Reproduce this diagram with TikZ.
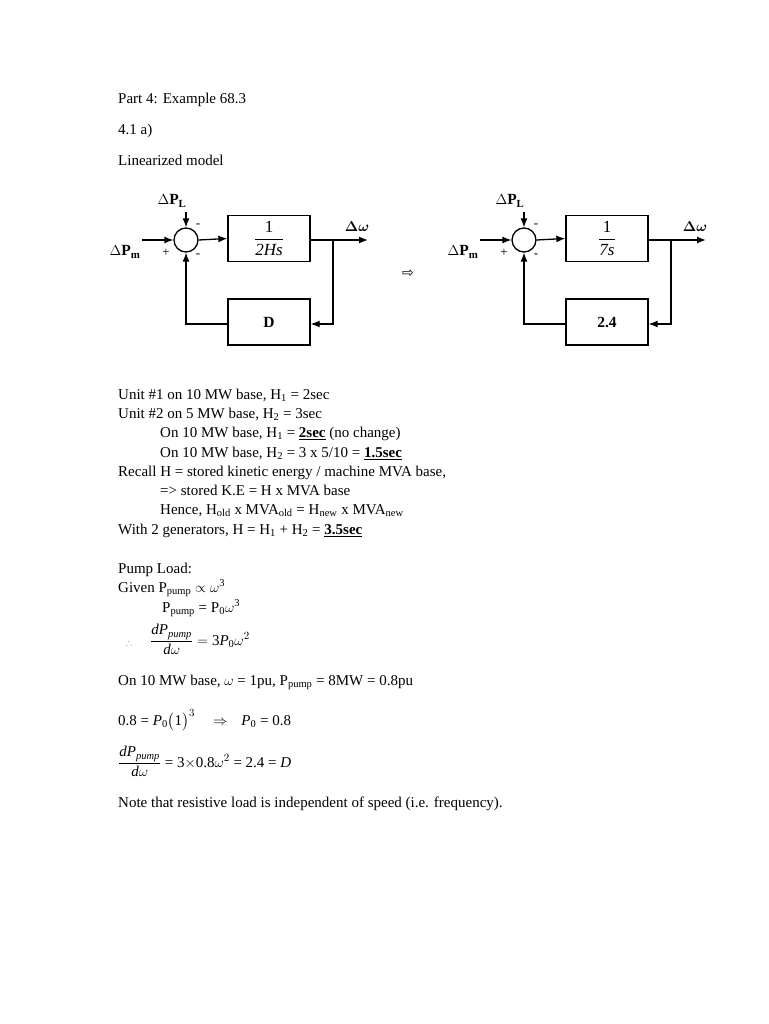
\documentclass[tikz,border=0pt]{standalone}
\usepackage{amsmath,amssymb}
\usepackage{fontspec}
\setmainfont{Liberation Serif}
\newfontfamily\symf{DejaVu Sans}
\usetikzlibrary{arrows.meta}
\begin{document}
\begin{tikzpicture}[x=1pt,y=-1pt,
  txt/.style={anchor=base west,inner sep=0pt,font=\fontsize{15}{17}\selectfont},
  lbl/.style={inner sep=0pt,font=\fontsize{15.5}{17}\selectfont\bfseries},
  blk/.style={draw,line width=1.3pt,minimum width=82pt,minimum height=46pt,inner sep=0pt,font=\fontsize{15.5}{17}\selectfont},
  sumc/.style={draw,line width=1.3pt,circle,minimum size=24pt,inner sep=0pt},
  ar/.style={line width=1.3pt,-{Latex[length=9pt,width=7pt]}},
  sg/.style={inner sep=0pt,font=\fontsize{13}{15}\selectfont}]
\useasboundingbox (0,0) rectangle (768,1024);
\fill[white] (0,0) rectangle (768,1024);

\node[txt] (t1) at (118,104) {Part 4: Example 68.3};
\node[txt] (t2) at (118,135) {4.1 a)};
\node[txt] (t3) at (118,166) {Linearized model};

\foreach \d/\nm/\blab/\dlab in {0/L/{\(\dfrac{\textrm{1}}{\textit{2Hs}}\)}/{\textbf{D}}, 338/R/{\(\dfrac{\textrm{1}}{\textit{7s}}\)}/{\textbf{2.4}}}{
  \node[sumc] (s\nm) at (186+\d,240) {};
  \node[blk] (g\nm) at (269+\d,238.5) {\fontsize{17}{19}\selectfont\blab};
  \node[blk] (h\nm) at (269+\d,322) {\dlab};
  \node[lbl] (pl\nm) at (172+\d,201) {\(\Delta\)P\textsubscript{L}};
  \node[lbl] (pm\nm) at (125+\d,252) {\(\Delta\)P\textsubscript{m}};
  \node[lbl] (w\nm) at (357+\d,227) {\(\boldsymbol{\Delta\omega}\)};
  \node[sg] (p\nm) at (166+\d,253) {+};
  \node[sg] (ma\nm) at (198+\d,226) {-};
  \node[sg] (mb\nm) at (198+\d,256) {-};
  \coordinate (in\nm) at (142+\d,240);
  \coordinate (top\nm) at (186+\d,212);
  \coordinate (out\nm) at (368+\d,240);
  \coordinate (br\nm) at (333+\d,240);
  \coordinate (fb\nm) at (333+\d,324);
  \coordinate (fl\nm) at (186+\d,324);
  \draw[ar] (in\nm) -- (s\nm.west);
  \draw[ar] (top\nm) -- (s\nm.north);
  \draw[ar] (s\nm.east) -- (g\nm.west);
  \draw[ar] (g\nm.east |- out\nm) -- (out\nm);
  \draw[ar] (br\nm) -- (fb\nm) -- (h\nm.east |- fb\nm);
  \draw[ar] (h\nm.west |- fl\nm) -- (fl\nm) -- (s\nm.south);
}
\node[inner sep=0pt,font=\symf\fontsize{14}{16}\selectfont] (imp) at (408,274) {⇨};

\node[txt] (u1) at (118,399) {Unit \#1 on 10 MW base, H\textsubscript{1} = 2sec};
\node[txt] (u2) at (118,418) {Unit \#2 on 5 MW base, H\textsubscript{2} = 3sec};
\node[txt] (u3) at (160,437) {On 10 MW base, H\textsubscript{1} = \textbf{\underline{2sec}} (no change)};
\node[txt] (u4) at (160,457) {On 10 MW base, H\textsubscript{2} = 3 x 5/10 = \textbf{\underline{1.5sec}}};
\node[txt] (u5) at (118,476) {Recall H = stored kinetic energy / machine MVA base,};
\node[txt] (u6) at (160,495) {=> stored K.E = H x MVA base};
\node[txt] (u7) at (160,514) {Hence, H\textsubscript{old} x MVA\textsubscript{old} = H\textsubscript{new} x MVA\textsubscript{new}};
\node[txt] (u8) at (118,534) {With 2 generators, H = H\textsubscript{1} + H\textsubscript{2} = \textbf{\underline{3.5sec}}};

\node[txt] (v1) at (118,573) {Pump Load:};
\node[txt] (v2) at (118,592) {Given P\textsubscript{pump} \(\propto\) \(\omega\)\textsuperscript{3}};
\node[txt] (v3) at (162,612) {P\textsubscript{pump} = P\textsubscript{0}\(\omega\)\textsuperscript{3}};
\node[txt] (v4) at (126,645) {\fontsize{9}{10}\selectfont\(\therefore\)\hspace{18pt}\fontsize{15}{17}\selectfont\(\dfrac{\textit{dP}_{\textit{pump}}}{\textit{d}\omega}=\textrm{3}\textit{P}_{\textrm{0}}\omega^{2}\)};
\node[txt] (v5) at (118,685) {On 10 MW base, \(\omega\) = 1pu, P\textsubscript{pump} = 8MW = 0.8pu};
\node[txt] (v6) at (118,725) {0.8 = \textit{P}\textsubscript{0}\(\bigl(\)1\(\bigr)^{3}\)\hspace{18pt}\(\Rightarrow\)\hspace{14pt}\textit{P}\textsubscript{0} = 0.8};
\node[txt] (v7) at (118,767) {\(\dfrac{\textit{dP}_{\textit{pump}}}{\textit{d}\omega}\) = 3\(\times\)0.8\(\omega^{2}\) = 2.4 = \textit{D}};
\node[txt] (v8) at (118,807) {Note that resistive load is independent of speed (i.e. frequency).};
\end{tikzpicture}
\end{document}
